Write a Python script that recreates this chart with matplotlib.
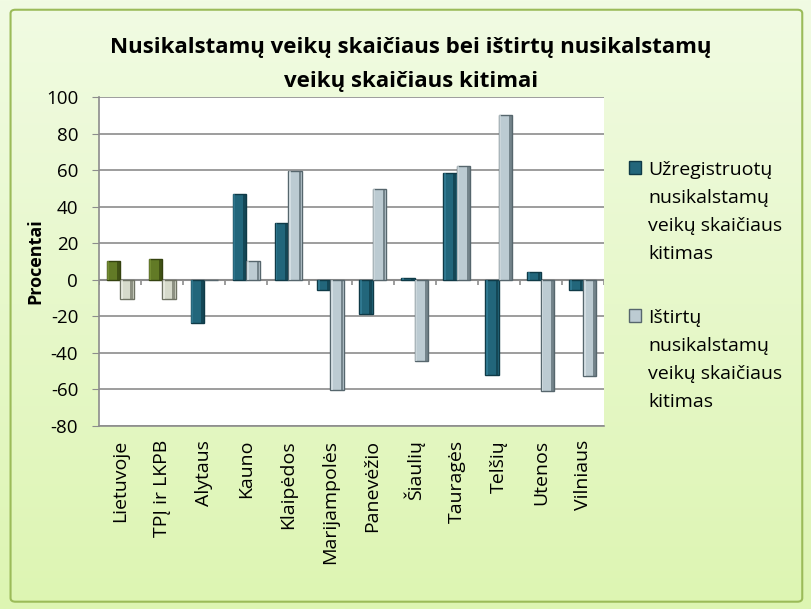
import matplotlib.pyplot as plt
import numpy as np
from matplotlib.patches import Rectangle, FancyBboxPatch
from matplotlib.colors import LinearSegmentedColormap

# ── data ─────────────────────────────────────────────────────────────
categories = ["Lietuvoje", "TPĮ ir LKPB", "Alytaus", "Kauno", "Klaipėdos",
              "Marijampolės", "Panevėžio", "Šiaulių", "Tauragės", "Telšių",
              "Utenos", "Vilniaus"]
registered = [10.5, 11.5, -23.5, 47, 31, -5.5, -18.5, 1, 58.5, -52, 4.5, -5.5]
solved     = [-10.5, -10.5, 0, 10.5, 59.5, -60.5, 49.5, -44.5, 62.5, 90, -61, -52.5]
legend_labels = ["Užregistruotų\nnusikalstamų\nveikų skaičiaus\nkitimas",
                 "Ištirtų\nnusikalstamų\nveikų skaičiaus\nkitimas"]
title_lines = ["Nusikalstamų veikų skaičiaus bei ištirtų nusikalstamų",
               "veikų skaičiaus kitimai"]

plt.rcParams["font.family"] = ["Open Sans", "DejaVu Sans"]
plt.rcParams["axes.unicode_minus"] = False

BLUE, BLUE_EDGE, BLUE_LIGHT = "#22667B", "#0F3A47", "#3A86A0"
GRAY, GRAY_EDGE, GRAY_LIGHT = "#BCCBD2", "#56666D", "#E3ECF0"
GREEN, GREEN_EDGE, GREEN_LIGHT = "#627A26", "#34420F", "#86A040"
PALE, PALE_EDGE, PALE_LIGHT = "#D6DACB", "#6F7364", "#F2F4EC"
GRID = "#8C8C8C"

W, H = 812, 609
fig = plt.figure(figsize=(W / 100, H / 100), dpi=100)

# gradient background + border
bg = fig.add_axes([0, 0, 1, 1], zorder=-10)
grad = np.linspace(0, 1, 256).reshape(-1, 1)
cm = LinearSegmentedColormap.from_list("bg", ["#F1FBE3", "#DDF5B2"])
bg.imshow(grad, aspect="auto", cmap=cm, extent=[0, 1, 0, 1], origin="upper")
bg.add_patch(FancyBboxPatch((0.013, 0.012), 0.975, 0.972,
                            boxstyle="round,pad=0,rounding_size=0.006",
                            transform=bg.transAxes, fill=False,
                            edgecolor="#9BBB59", linewidth=1.5))
bg.set_xlim(0, 1)
bg.set_ylim(0, 1)
bg.axis("off")

ax = fig.add_axes([99 / W, 1 - 426 / H, 505 / W, 329 / H])
ax.set_facecolor("white")

x = np.arange(len(categories))
w = 0.32
first = x < 2


def pick(a, b):
    return [a if f else b for f in first]


def bevel_bars(pos, vals, face, edge, light):
    # main body, dark right strip, light left strip -> rough bevel look
    ax.bar(pos, vals, w, color=face, edgecolor=edge, linewidth=1.0, zorder=3)
    ax.bar(pos + w * 0.36, vals, w * 0.2, color=edge, linewidth=0, zorder=4,
           alpha=0.7)
    ax.bar(pos - w * 0.38, vals, w * 0.14, color=light, linewidth=0, zorder=4,
           alpha=0.6)


bevel_bars(x - w / 2, registered, pick(GREEN, BLUE), pick(GREEN_EDGE, BLUE_EDGE),
           pick(GREEN_LIGHT, BLUE_LIGHT))
bevel_bars(x + w / 2, solved, pick(PALE, GRAY), pick(PALE_EDGE, GRAY_EDGE),
           pick(PALE_LIGHT, GRAY_LIGHT))

ax.set_xlim(-0.5, len(categories) - 0.5)
ax.set_ylim(-80, 100)
ax.set_yticks(np.arange(-80, 101, 20))
ax.yaxis.grid(True, color=GRID, linewidth=1.2, zorder=0)
ax.axhline(0, color=GRID, linewidth=1.5, zorder=2)
# category tick marks on the zero line
ax.vlines(np.arange(len(categories) + 1) - 0.5, -3, 0, color=GRID,
          linewidth=1.2, zorder=2)

ax.set_xticks(x)
ax.set_xticklabels(categories, rotation=90, fontsize=14)
ax.tick_params(axis="x", length=0, pad=10)
ax.tick_params(axis="y", labelsize=13.5, length=5, color=GRID, pad=10)
for side in ["top", "right"]:
    ax.spines[side].set_visible(False)
for side in ["left", "bottom"]:
    ax.spines[side].set_color(GRID)
    ax.spines[side].set_linewidth(1.2)

ax.set_ylabel("Procentai", fontsize=13, fontweight="bold", labelpad=1)

for line, base in zip(title_lines, [53, 87]):
    fig.text(411 / W, 1 - base / H, line, ha="center", va="baseline",
             fontsize=16, fontweight="bold")

# legend
for label, color, edge, base in [(legend_labels[0], BLUE, BLUE_EDGE, 175),
                                  (legend_labels[1], GRAY, GRAY_EDGE, 323)]:
    bg.add_patch(Rectangle((629 / W, 1 - (base - 1) / H), 12 / W, 13 / H,
                           facecolor=color, edgecolor=edge, linewidth=1,
                           transform=bg.transAxes))
    for k, line in enumerate(label.split("\n")):
        fig.text(648 / W, 1 - (base + 28 * k) / H, line, ha="left",
                 va="baseline", fontsize=14)

fig.savefig("out.png", dpi=100)
